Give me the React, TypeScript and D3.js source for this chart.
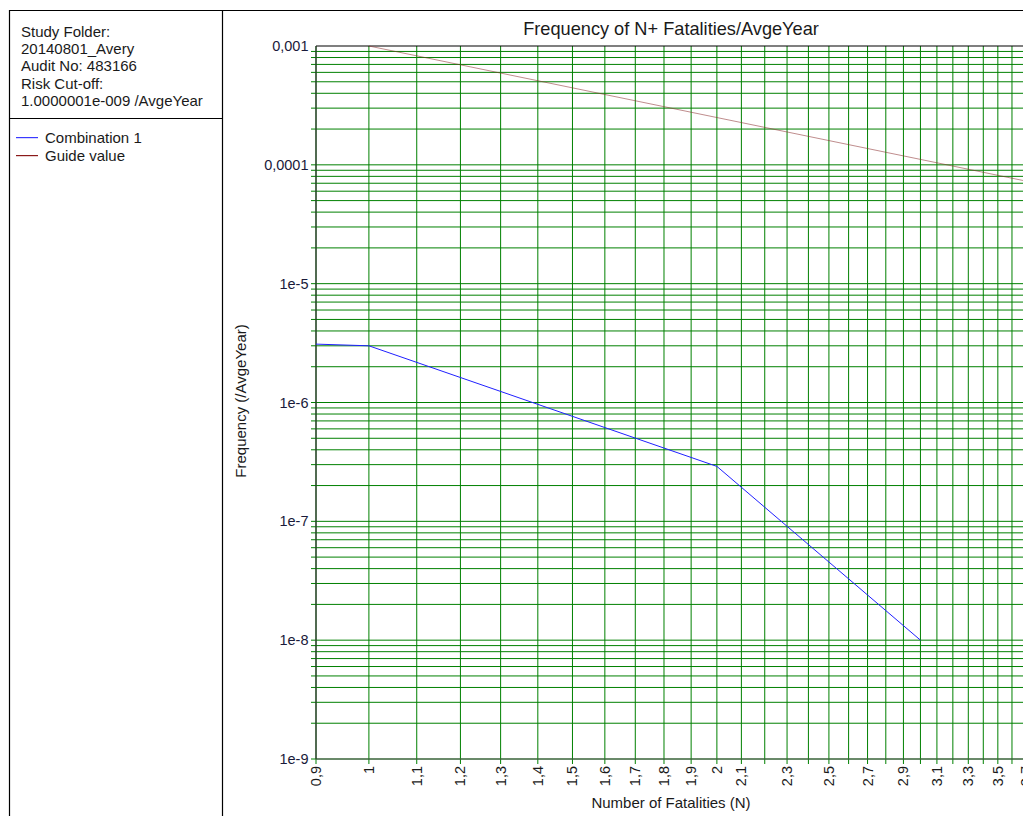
import React from "react";
import * as d3 from "d3";

const infoLines = [
  "Study Folder:",
  "20140801_Avery",
  "Audit No: 483166",
  "Risk Cut-off:",
  "1.0000001e-009 /AvgeYear",
];
const legendNames = ["Combination 1", "Guide value"];
const legendColors = ["#3a3aff", "#8b1a1a"];

const comboN = [0.9, 1, 2, 3];
const comboF = [3.1e-6, 3.0e-6, 2.9e-7, 1.0e-8];

const guideN = [1, 4];
const guideF = [1e-3, 6.25e-5];

const xLabelTicks = [0.9, 1, 1.1, 1.2, 1.3, 1.4, 1.5, 1.6, 1.7, 1.8, 1.9, 2, 2.1, 2.3, 2.5, 2.7, 2.9, 3.1, 3.3, 3.5, 3.7];
const xGridTicks = [0.9, 1, 1.1, 1.2, 1.3, 1.4, 1.5, 1.6, 1.7, 1.8, 1.9, 2, 2.1, 2.2, 2.3, 2.4, 2.5, 2.6, 2.7, 2.8, 2.9, 3, 3.1, 3.2, 3.3, 3.4, 3.5, 3.6, 3.7, 3.8, 3.9];
const yLabelTicks = [1e-3, 1e-4, 1e-5, 1e-6, 1e-7, 1e-8, 1e-9];
const yLabelTexts = ["0,001", "0,0001", "1e-5", "1e-6", "1e-7", "1e-8", "1e-9"];
const yDecades = [-9, -8, -7, -6, -5, -4];
const yMantissas = [1, 2, 3, 4, 5, 6, 7, 8, 9];

const FONT = "'Liberation Sans', Arial, sans-serif";

export default function App() {
  const W = 1023;
  const H = 816;
  const left = 316;
  const top = 46;
  const bottom = 759;
  const pxPerDecadeX = 1156;
  const xMax = 4;
  const right = left + pxPerDecadeX * Math.log10(xMax / 0.9);

  const x = d3.scaleLog().domain([0.9, xMax]).range([left, right]);
  const y = d3.scaleLog().domain([1e-9, 1e-3]).range([bottom, top]);

  const yGrid: number[] = [];
  yDecades.forEach((d) => yMantissas.forEach((m) => yGrid.push(m * Math.pow(10, d))));

  const line = d3
    .line<[number, number]>()
    .x((p) => x(p[0]))
    .y((p) => y(p[1]));

  const comboPts: [number, number][] = comboN.map((n, i) => [n, comboF[i]]);
  const guidePts: [number, number][] = guideN.map((n, i) => [n, guideF[i]]);

  const fmtX = (v: number) => String(+v.toFixed(1)).replace(".", ",");

  return (
    <svg
      width={W}
      height={H}
      style={{ position: "absolute", left: 0, top: 0, background: "#fff" }}
      fontFamily={FONT}
    >
      <defs>
        <clipPath id="plotclip">
          <rect x={left} y={top - 2} width={W - left} height={bottom - top + 4} />
        </clipPath>
      </defs>
      {/* frame */}
      <line x1={9} y1={10.5} x2={W} y2={10.5} stroke="#000" strokeWidth={1.2} />
      <line x1={9.5} y1={10} x2={9.5} y2={H} stroke="#000" strokeWidth={1.2} />
      <line x1={222.5} y1={10} x2={222.5} y2={H} stroke="#000" strokeWidth={1.2} />
      <line x1={9} y1={118.5} x2={222} y2={118.5} stroke="#000" strokeWidth={1.2} />

      {/* info text */}
      {infoLines.map((t, i) => (
        <text key={t} x={21} y={37 + i * 17.2} fontSize={15} fill="#1a1a1a">
          {t}
        </text>
      ))}
      {/* legend */}
      {legendNames.map((t, i) => (
        <g key={t}>
          <rect x={16} width={22} y={137 + i * 18} height={1.2} fill={legendColors[i]} />
          <text x={45} y={142.5 + i * 18} fontSize={15} fill="#1a1a1a">
            {t}
          </text>
        </g>
      ))}

      {/* title */}
      <text x={671} y={35} textAnchor="middle" fontSize={18.2} fill="#1a1a1a">
        Frequency of N+ Fatalities/AvgeYear
      </text>

      {/* horizontal grid */}
      {yGrid.map((v, i) => (
        <line key={"yg" + i} x1={311} x2={W} y1={y(v)} y2={y(v)} stroke="#008000" strokeWidth={1} />
      ))}
      {/* vertical grid */}
      {xGridTicks.map((v, i) => (
        <line key={"xg" + i} x1={x(v)} x2={x(v)} y1={top} y2={bottom + 5} stroke="#008000" strokeWidth={1} />
      ))}

      {/* axes */}
      <line x1={left} x2={W} y1={top} y2={top} stroke="#000" strokeWidth={1.2} />
      <line x1={left} x2={W} y1={bottom} y2={bottom} stroke="#555" strokeWidth={1.2} />
      <line x1={left} x2={left} y1={top} y2={bottom} stroke="#333" strokeWidth={1.2} />

      {/* y tick labels */}
      {yLabelTicks.map((v, i) => (
        <text key={"yl" + i} x={308.5} y={y(v) + 5} textAnchor="end" fontSize={14.5} fill="#1a1a3a">
          {yLabelTexts[i]}
        </text>
      ))}
      {/* x tick labels */}
      {xLabelTicks.map((v, i) => (
        <text
          key={"xl" + i}
          transform={`translate(${x(v) + 5},${766}) rotate(-90)`}
          textAnchor="end"
          fontSize={14.5}
          fill="#1a1a1a"
        >
          {fmtX(v)}
        </text>
      ))}

      {/* data lines */}
      <g clipPath="url(#plotclip)">
        <path d={line(guidePts) || ""} fill="none" stroke="#8b3030" strokeOpacity={0.55} strokeWidth={1} />
        <path d={line(comboPts) || ""} fill="none" stroke="#2020ff" strokeWidth={1} />
      </g>

      {/* axis titles */}
      <text x={671} y={808} textAnchor="middle" fontSize={15} fill="#1a1a1a">
        Number of Fatalities (N)
      </text>
      <text transform="translate(246,401) rotate(-90)" textAnchor="middle" fontSize={15} fill="#1a1a1a">
        Frequency (/AvgeYear)
      </text>
    </svg>
  );
}
